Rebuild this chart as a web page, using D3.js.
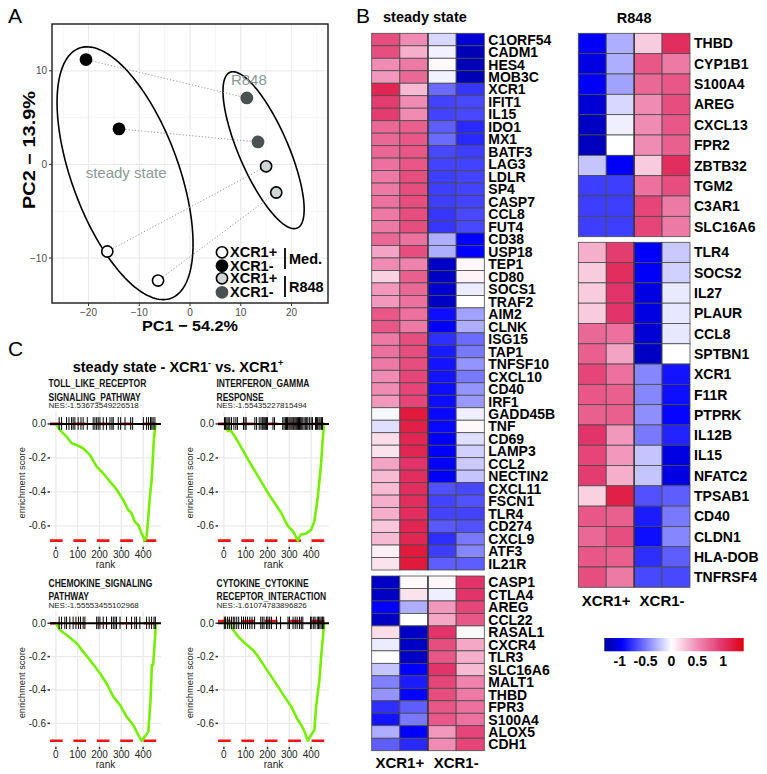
<!DOCTYPE html>
<html>
<head>
<meta charset="utf-8">
<title>Figure</title>
<script src="https://cdn.jsdelivr.net/npm/d3@7/dist/d3.min.js"></script>
<style>
body { margin: 0; background: #ffffff; }
text { font-family: "Liberation Sans", Arial, Helvetica, sans-serif; }
</style>
</head>
<body>
<svg id="figure" width="767" height="774"></svg>
<script>
/* ===== data : panel A (PCA) ===== */
var pcaPc1 = [-16.3, -6.3, -20.5, -14.0, 15.0, 17.0, 11.2, 13.4];
var pcaPc2 = [-9.3, -12.4, 11.2, 3.8, -0.2, -3.0, 7.1, 2.4];
var pcaGroup = [0, 0, 1, 1, 2, 2, 3, 3];
var pcaPairs = [[2, 6], [3, 7], [0, 4], [1, 5]];   // same donor, medium -> R848
var pcaLegendLabels = ["XCR1+", "XCR1-", "XCR1+", "XCR1-"];
var pcaConditionLabels = ["Med.", "R848"];
var ellipseLabels = ["steady state", "R848"];
var ellipseCenterX = [-12.8, 14.5];
var ellipseCenterY = [-0.94, 1.52];
var ellipseRadiusX = [13.4, 8.0];
var ellipseRadiusY = [13.5, 8.38];
var ellipseCorr = [-0.56, -0.753];

/* ===== data : panel B (heatmaps, z-score) ===== */
var heatColumns = ["XCR1+", "XCR1-"];
var steadyTopGenes = ["C1ORF54","CADM1","HES4","MOB3C","XCR1","IFIT1","IL15","IDO1","MX1","BATF3","LAG3","LDLR","SP4","CASP7","CCL8","FUT4","CD38","USP18","TEP1","CD80","SOCS1","TRAF2","AIM2","CLNK","ISG15","TAP1","TNFSF10","CXCL10","CD40","IRF1","GADD45B","TNF","CD69","LAMP3","CCL2","NECTIN2","CXCL11","FSCN1","TLR4","CD274","CXCL9","ATF3","IL21R"];
var steadyTopValues = [
  [0.85, 0.5, -0.15, -1.1], [0.85, 0.35, -0.05, -1.2], [0.5, 0.6, 0.03, -1.2], [0.45, 0.7, -0.05, -1.2],
  [1.1, 0.3, -0.55, -0.75], [0.95, 0.5, -0.7, -0.68], [0.95, 0.5, -0.7, -0.68], [0.7, 0.75, -0.6, -0.8],
  [0.7, 0.8, -0.55, -0.8], [0.7, 0.8, -0.68, -0.72], [0.65, 0.8, -0.7, -0.7], [0.6, 0.85, -0.72, -0.7],
  [0.6, 0.85, -0.72, -0.7], [0.65, 0.85, -0.72, -0.7], [0.6, 0.85, -0.75, -0.68], [0.6, 0.85, -0.75, -0.68],
  [0.7, 0.65, -0.3, -0.95], [0.4, 0.85, -0.3, -0.95], [0.5, 0.55, -1.15, 0.03], [0.2, 0.75, -1.15, 0.05],
  [0.45, 0.7, -1.12, -0.07], [0.45, 0.65, -1.15, 0.0], [0.8, 0.65, -0.9, -0.35], [0.8, 0.6, -0.95, -0.3],
  [0.6, 0.85, -0.78, -0.55], [0.65, 0.85, -0.85, -0.5], [0.6, 0.85, -0.88, -0.4], [0.5, 0.9, -0.88, -0.5],
  [0.5, 0.9, -0.9, -0.4], [0.45, 0.9, -0.9, -0.38], [-0.03, 1.2, -0.92, -0.06], [-0.12, 1.15, -0.92, 0.03],
  [0.15, 1.1, -0.97, -0.12], [0.12, 1.1, -0.97, -0.17], [0.4, 1.0, -0.98, -0.2], [0.3, 1.05, -0.97, -0.22],
  [0.3, 1.05, -0.65, -0.68], [0.35, 1.05, -0.7, -0.65], [0.35, 1.05, -0.7, -0.7], [0.25, 1.1, -0.62, -0.65],
  [0.3, 1.1, -0.78, -0.5], [0.07, 1.2, -0.72, -0.45], [0.12, 1.2, -0.6, -0.6]
];
var steadyBottomGenes = ["CASP1","CTLA4","AREG","CCL22","RASAL1","CXCR4","TLR3","SLC16A6","MALT1","THBD","FPR3","S100A4","ALOX5","CDH1"];
var steadyBottomValues = [
  [-1.15, 0.03, 0.04, 1.0], [-1.15, 0.12, -0.06, 1.0], [-0.97, -0.3, 0.45, 0.9], [-1.15, 0.0, 0.38, 0.8],
  [0.15, -1.15, 1.0, 0.03], [-0.07, -1.15, 0.85, 0.38], [0.0, -1.15, 0.8, 0.35], [-0.22, -0.95, 1.0, 0.3],
  [-0.47, -0.85, 0.9, 0.55], [-0.4, -0.93, 0.85, 0.6], [-0.78, -0.6, 0.8, 0.65], [-0.88, -0.5, 0.8, 0.65],
  [-0.3, -0.97, 0.45, 0.9], [-0.6, -0.8, 0.5, 0.9]
];
var r848TopGenes = ["THBD","CYP1B1","S100A4","AREG","CXCL13","FPR2","ZBTB32","TGM2","C3AR1","SLC16A6"];
var r848TopValues = [
  [-0.97, -0.3, 0.22, 1.05], [-1.05, -0.3, 0.8, 0.6], [-0.97, -0.35, 0.7, 0.8], [-1.1, -0.15, 0.5, 0.85],
  [-1.15, -0.06, 0.5, 0.8], [-1.18, 0.0, 0.5, 0.75], [-0.22, -0.97, 0.22, 1.05], [-0.72, -0.72, 0.65, 0.85],
  [-0.72, -0.72, 0.9, 0.6], [-0.72, -0.72, 0.9, 0.6]
];
var r848BottomGenes = ["TLR4","SOCS2","IL27","PLAUR","CCL8","SPTBN1","XCR1","F11R","PTPRK","IL12B","IL15","NFATC2","TPSAB1","CD40","CLDN1","HLA-DOB","TNFRSF4"];
var r848BottomValues = [
  [0.35, 0.95, -0.97, -0.2], [0.22, 1.05, -0.97, -0.17], [0.22, 1.0, -1.05, -0.08], [0.22, 1.0, -1.05, -0.09],
  [0.7, 0.65, -1.1, -0.09], [0.75, 0.4, -1.15, 0.0], [0.9, 0.65, -0.45, -0.88], [0.8, 0.75, -0.45, -0.9],
  [0.75, 0.75, -0.42, -0.93], [1.0, 0.45, -0.5, -0.82], [0.9, 0.45, -0.22, -1.05], [0.95, 0.35, -0.22, -1.05],
  [0.2, 1.15, -0.65, -0.6], [0.8, 0.75, -0.85, -0.5], [0.7, 0.85, -0.9, -0.45], [0.8, 0.75, -0.78, -0.6],
  [0.85, 0.6, -0.68, -0.68]
];
var colorbarTicks = [-1, -0.5, 0, 0.5, 1];
var colorbarTickLabels = ["-1", "-0.5", "0", "0.5", "1"];

/* ===== data : panel C (GSEA) ===== */
var gseaTitle1 = ["TOLL_LIKE_RECEPTOR", "INTERFERON_GAMMA", "CHEMOKINE_SIGNALING", "CYTOKINE_CYTOKINE"];
var gseaTitle2 = ["SIGNALING_PATHWAY", "RESPONSE", "PATHWAY", "RECEPTOR_INTERACTION"];
var gseaNes = ["-1.53673549226518", "-1.55435227815494", "-1.55553455102968", "-1.61074783896826"];
var gseaMinScore = [-0.686, -0.686, -0.705, -0.705];
var gseaMaxScore = [0, 0, 0, 0.014];
var gseaRankTicks = [0, 100, 200, 300, 400];
var gseaScoreTicks = [0, -0.2, -0.4, -0.6];
var gseaScoreTickLabels = ["0.0", "-0.2", "-0.4", "-0.6"];

var tollRank  = [0, 18, 49, 72, 95, 125, 156, 187, 217, 248, 278, 309, 332, 347, 362, 378, 393, 408, 416, 424, 431, 439, 446, 449, 457];
var tollScore = [0, -0.035, -0.075, -0.114, -0.124, -0.143, -0.182, -0.251, -0.29, -0.339, -0.384, -0.447, -0.506, -0.525, -0.575, -0.594, -0.643, -0.686, -0.663, -0.545, -0.427, -0.329, -0.173, -0.094, 0];
var tollHits  = [15, 26, 49, 60, 72, 79, 87, 102, 115, 125, 144, 171, 179, 187, 194, 202, 217, 232, 248, 257, 263, 286, 297, 317, 343, 352, 401, 416, 425, 434, 440, 446, 454];

var ifngRank  = [0, 20, 27, 50, 81, 111, 157, 202, 233, 263, 294, 317, 339, 352, 377, 400, 415, 431, 446, 453, 460];
var ifngScore = [0, -0.043, -0.033, -0.073, -0.141, -0.21, -0.308, -0.406, -0.465, -0.524, -0.602, -0.631, -0.686, -0.651, -0.645, -0.622, -0.573, -0.425, -0.229, -0.092, 0];
var ifngHits  = [3, 8, 14, 20, 27, 35, 46, 55, 62, 90, 97, 102, 142, 150, 162, 170, 176, 180, 185, 190, 195, 200, 225, 232, 270, 276, 282, 287, 292, 298, 303, 308, 313, 318, 322, 327, 332, 337, 342, 347, 352, 357, 362, 368, 375, 380, 385, 392, 400, 406, 420, 425, 430, 436, 441, 447, 452];

var chemoRank  = [0, 18, 49, 95, 125, 156, 202, 232, 263, 294, 324, 355, 370, 393, 408, 424, 434, 440, 446, 454, 459];
var chemoScore = [0, -0.04, -0.07, -0.12, -0.17, -0.22, -0.3, -0.36, -0.44, -0.49, -0.56, -0.61, -0.65, -0.705, -0.68, -0.65, -0.46, -0.25, -0.25, -0.1, 0];
var chemoHits  = [15, 26, 41, 49, 64, 79, 92, 104, 113, 125, 133, 187, 194, 202, 217, 232, 255, 263, 271, 278, 294, 324, 347, 362, 370, 385, 416, 428, 439, 450, 456];

var cytoRank  = [0, 12, 27, 43, 66, 96, 134, 157, 187, 218, 248, 278, 309, 339, 355, 370, 385, 400, 415, 423, 438, 446, 453, 460];
var cytoScore = [0, 0.014, -0.01, -0.04, -0.08, -0.12, -0.16, -0.2, -0.26, -0.32, -0.38, -0.44, -0.5, -0.58, -0.61, -0.65, -0.705, -0.67, -0.64, -0.5, -0.34, -0.2, -0.1, 0];
var cytoHits  = [2, 8, 17, 25, 35, 43, 50, 59, 68, 81, 90, 99, 108, 119, 129, 141, 169, 176, 184, 195, 202, 210, 218, 241, 260, 294, 301, 317, 327, 336, 347, 355, 362, 397, 403, 412, 418, 428, 434, 440, 446, 452, 458];

var gseaRanks  = [tollRank, ifngRank, chemoRank, cytoRank];
var gseaScores = [tollScore, ifngScore, chemoScore, cytoScore];
var gseaHits   = [tollHits, ifngHits, chemoHits, cytoHits];

/* ===== helpers ===== */
var svg = d3.select("#figure");

function drawText(node, x, y, text, size, anchor, weight, fill) {
  return node.append("text").attr("x", x).attr("y", y)
    .attr("font-size", size).attr("text-anchor", anchor || "start")
    .attr("font-weight", weight || "normal").attr("fill", fill || "#000000")
    .text(text);
}

function drawLine(node, x1, y1, x2, y2, color, width, dash) {
  var line = node.append("line").attr("x1", x1).attr("y1", y1).attr("x2", x2).attr("y2", y2)
    .attr("stroke", color).attr("stroke-width", width);
  if (dash) {
    line.attr("stroke-dasharray", dash);
  }
  return line;
}

/* panel letters */
drawText(svg, 8, 23, "A", 21);
drawText(svg, 356, 23, "B", 21);
drawText(svg, 8, 356, "C", 21);

/* ===== panel A ===== */
var pcaBox = { left: 52, right: 328, top: 24, bottom: 303 };
var xPca = d3.scaleLinear().domain([-27.2, 27.2]).range([pcaBox.left, pcaBox.right]);
var yPca = d3.scaleLinear().domain([-14.8, 15]).range([pcaBox.bottom, pcaBox.top]);
var gA = svg.append("g");
var pcaFill = ["#ffffff", "#000000", "#d3d6d6", "#4b5151"];
var pcaStroke = ["#000000", "#000000", "#000000", "#4b5151"];

xPca.ticks(10).forEach(function(v) {
  var major = v % 10 === 0;
  drawLine(gA, xPca(v), pcaBox.top, xPca(v), pcaBox.bottom, major ? "#ebebeb" : "#f3f3f3", major ? 1.3 : 0.8);
});
yPca.ticks(6).forEach(function(v) {
  var major = v % 10 === 0;
  drawLine(gA, pcaBox.left, yPca(v), pcaBox.right, yPca(v), major ? "#ebebeb" : "#f3f3f3", major ? 1.3 : 0.8);
});
gA.append("rect").attr("x", pcaBox.left).attr("y", pcaBox.top)
  .attr("width", pcaBox.right - pcaBox.left).attr("height", pcaBox.bottom - pcaBox.top)
  .attr("fill", "none").attr("stroke", "#1a1a1a").attr("stroke-width", 1.4);

var fmt = d3.format("d");
[-20, -10, 0, 10, 20].forEach(function(v) {
  drawLine(gA, xPca(v), pcaBox.bottom, xPca(v), pcaBox.bottom + 3, "#333333", 1);
  drawText(gA, xPca(v), pcaBox.bottom + 13, fmt(v), 10, "middle", "normal", "#4d4d4d");
});
[-10, 0, 10].forEach(function(v) {
  drawLine(gA, pcaBox.left - 3, yPca(v), pcaBox.left, yPca(v), "#333333", 1);
  drawText(gA, pcaBox.left - 5, yPca(v) + 3.5, fmt(v), 10, "end", "normal", "#4d4d4d");
});
drawText(gA, 190, 331, "PC1 \u2212 54.2%", 15.5, "middle", "bold")
  .attr("textLength", 96).attr("lengthAdjust", "spacingAndGlyphs");
drawText(gA, 0, 0, "PC2 \u2212 13.9%", 16.5, "middle", "bold")
  .attr("textLength", 118).attr("lengthAdjust", "spacingAndGlyphs")
  .attr("transform", "translate(35,150) rotate(-90)");

// confidence ellipses
var angles = d3.range(0, 2 * Math.PI, Math.PI / 90);
var ellipseLine = d3.line().curve(d3.curveLinearClosed);
ellipseLabels.forEach(function(name, i) {
  var s = Math.sqrt(1 - ellipseCorr[i] * ellipseCorr[i]);
  var pts = angles.map(function(t) {
    var ex = ellipseCenterX[i] + ellipseRadiusX[i] * Math.cos(t);
    var ey = ellipseCenterY[i] + ellipseRadiusY[i] * (ellipseCorr[i] * Math.cos(t) + s * Math.sin(t));
    return [xPca(ex), yPca(ey)];
  });
  gA.append("path").attr("d", ellipseLine(pts)).attr("fill", "none")
    .attr("stroke", "#000000").attr("stroke-width", 1.6);
});
drawText(gA, xPca(-12.6), yPca(-1.45), ellipseLabels[0], 15, "middle", "normal", "#8a9999");
drawText(gA, xPca(11.6), yPca(8.5), ellipseLabels[1], 15, "middle", "normal", "#8a9999");

// donor links
pcaPairs.forEach(function(p) {
  drawLine(gA, xPca(pcaPc1[p[0]]), yPca(pcaPc2[p[0]]), xPca(pcaPc1[p[1]]), yPca(pcaPc2[p[1]]), "#8c8c8c", 0.9, "1.2,2");
});
pcaPc1.forEach(function(v, i) {
  gA.append("circle").attr("cx", xPca(v)).attr("cy", yPca(pcaPc2[i])).attr("r", 5.6)
    .attr("fill", pcaFill[pcaGroup[i]]).attr("stroke", pcaStroke[pcaGroup[i]]).attr("stroke-width", 1.6);
});

// legend
var legendY = [252.3, 265.7, 278.3, 292.3];
pcaLegendLabels.forEach(function(label, i) {
  gA.append("circle").attr("cx", 222).attr("cy", legendY[i]).attr("r", 5.6)
    .attr("fill", pcaFill[i]).attr("stroke", pcaStroke[i]).attr("stroke-width", 1.6);
  drawText(gA, 230, legendY[i] + 5, label, 14.5, "start", "bold");
});
drawLine(gA, 285, 248, 285, 269, "#000000", 1.8);
drawLine(gA, 285, 276, 285, 297, "#000000", 1.8);
drawText(gA, 289, 263.5, pcaConditionLabels[0], 14.5, "start", "bold");
drawText(gA, 289, 292, pcaConditionLabels[1], 14.5, "start", "bold");

/* ===== panel B ===== */
var heatColor = d3.scaleLinear()
  .domain([-1.3, -0.95, 0, 0.5, 1.0, 1.4])
  .range(["#00009a", "#0000ff", "#ffffff", "#f08cb4", "#e2336a", "#e0000f"])
  .clamp(true);
var gB = svg.append("g");

function drawHeatmap(node, genes, values, x0, x1, y0, y1) {
  var xb = d3.scaleBand().domain(d3.range(4)).range([x0, x1]);
  var yb = d3.scaleBand().domain(d3.range(genes.length)).range([y0, y1]);
  genes.forEach(function(gene, r) {
    values[r].forEach(function(v, c) {
      node.append("rect").attr("x", xb(c)).attr("y", yb(r))
        .attr("width", xb.bandwidth()).attr("height", yb.bandwidth())
        .attr("fill", heatColor(v)).attr("stroke", "#4a4a4a").attr("stroke-width", 0.8);
    });
    drawText(node, x1 + 4, yb(r) + yb.bandwidth() / 2 + 5, gene, 14, "start", "bold");
  });
  drawLine(node, xb(2), y0, xb(2), y1, "#333333", 1.3);
  return xb;
}

var steadyX = drawHeatmap(gB, steadyTopGenes, steadyTopValues, 371.7, 484.3, 33.3, 570);
drawHeatmap(gB, steadyBottomGenes, steadyBottomValues, 371.7, 484.3, 576, 750.7);
var r848X = drawHeatmap(gB, r848TopGenes, r848TopValues, 578.3, 690, 33.3, 236.7);
drawHeatmap(gB, r848BottomGenes, r848BottomValues, 578.3, 690, 242.3, 587.3);

drawText(gB, 383, 22, "steady state", 14.5, "start", "bold");
drawText(gB, r848X(2), 23, "R848", 14.5, "middle", "bold");
heatColumns.forEach(function(label, i) {
  drawText(gB, steadyX(2 * i + 1), 768, label, 15, "middle", "bold");
  drawText(gB, r848X(2 * i + 1), 606, label, 15, "middle", "bold");
});

// colour key
var keyScale = d3.scaleLinear().domain([-1.3, 1.4]).range([604.3, 743.7]);
var grad = svg.append("defs").append("linearGradient").attr("id", "keyGrad")
  .attr("x1", "0%").attr("x2", "100%").attr("y1", "0%").attr("y2", "0%");
d3.range(0, 1.0001, 0.02).forEach(function(f) {
  grad.append("stop").attr("offset", (f * 100) + "%").attr("stop-color", heatColor(keyScale.invert(604.3 + f * 139.4)));
});
gB.append("rect").attr("x", keyScale(-1.3)).attr("y", 638)
  .attr("width", keyScale(1.4) - keyScale(-1.3)).attr("height", 13.3).attr("fill", "url(#keyGrad)");
colorbarTicks.forEach(function(v, i) {
  drawText(gB, keyScale(v), 665.5, colorbarTickLabels[i], 14, "middle", "bold");
});

/* ===== panel C ===== */
var gC = svg.append("g");
var ct = drawText(gC, 178, 372, "steady state - XCR1", 14.5, "middle", "bold");
ct.append("tspan").attr("font-size", 9).attr("dy", -6).text("-");
ct.append("tspan").attr("dy", 6).text(" vs. XCR1");
ct.append("tspan").attr("font-size", 9).attr("dy", -6).text("+");

var gseaColX = [[50, 161], [218, 329]];
var gseaRowY = [[411, 546.7], [610.6, 746.8]];
var gseaRowDomain = [[-0.722, 0.076], [-0.741, 0.076]];
var gseaLine = d3.line();

gseaTitle1.forEach(function(title, i) {
  var col = i % 2, row = Math.floor(i / 2);
  var g = gC.append("g");
  var x = d3.scaleLinear().domain([-27, 482]).range(gseaColX[col]);
  var y = d3.scaleLinear().domain(gseaRowDomain[row]).range([gseaRowY[row][1], gseaRowY[row][0]]);
  var left = gseaColX[col][0], right = gseaColX[col][1];
  var top = gseaRowY[row][0], bottom = gseaRowY[row][1];

  // grid
  gseaRankTicks.forEach(function(v) {
    drawLine(g, x(v), top, x(v), bottom, "#ebebeb", 1.3);
  });
  gseaScoreTicks.forEach(function(v) {
    drawLine(g, left, y(v), right, y(v), "#ebebeb", 1.3);
  });

  // ES bounds
  drawLine(g, left, y(gseaMinScore[i]), right, y(gseaMinScore[i]), "#f01414", 2.6, "12.7,10.7");
  drawLine(g, left, y(gseaMaxScore[i]), right, y(gseaMaxScore[i]), "#f01414", 2.6, "12.7,10.7");

  // running enrichment score
  var pts = gseaRanks[i].map(function(r, k) { return [x(r), y(gseaScores[i][k])]; });
  g.append("path").attr("d", gseaLine(pts)).attr("fill", "none")
    .attr("stroke", "#76ee00").attr("stroke-width", 2.6).attr("stroke-linejoin", "round");

  // hits
  drawLine(g, left, y(0), right, y(0), "#000000", 2);
  gseaHits[i].forEach(function(r) {
    drawLine(g, x(r), y(0.04), x(r), y(-0.035), "#000000", 1);
  });

  // axes
  gseaScoreTicks.forEach(function(v, k) {
    drawLine(g, left - 2.5, y(v), left, y(v), "#333333", 1.5);
    drawText(g, left - 4, y(v) + 3.5, gseaScoreTickLabels[k], 10, "end", "normal", "#222222");
  });
  gseaRankTicks.forEach(function(v) {
    drawLine(g, x(v), bottom, x(v), bottom + 2.5, "#333333", 1.5);
    drawText(g, x(v), bottom + 11, String(v), 10, "middle", "normal", "#222222");
  });
  drawText(g, (left + right) / 2, bottom + 21, "rank", 10, "middle", "normal", "#222222");
  drawText(g, 0, 0, "enrichment score", 9.3, "middle", "normal", "#222222")
    .attr("transform", "translate(" + (left - 25) + "," + ((top + bottom) / 2 + 4) + ") rotate(-90)");

  // titles
  var t1 = g.append("g").attr("transform", "translate(" + (left - 1.5) + "," + (top - 24) + ") scale(0.85,1)");
  drawText(t1, 0, 0, title, 10, "start", "bold", "#111111");
  var t2 = g.append("g").attr("transform", "translate(" + (left - 1.5) + "," + (top - 10.4) + ") scale(0.85,1)");
  drawText(t2, 0, 0, gseaTitle2[i], 10, "start", "bold", "#111111");
  drawText(g, left - 1.5, top - 2.6, "NES:" + gseaNes[i], 8, "start", "normal", "#222222");
});
</script>
</body>
</html>
